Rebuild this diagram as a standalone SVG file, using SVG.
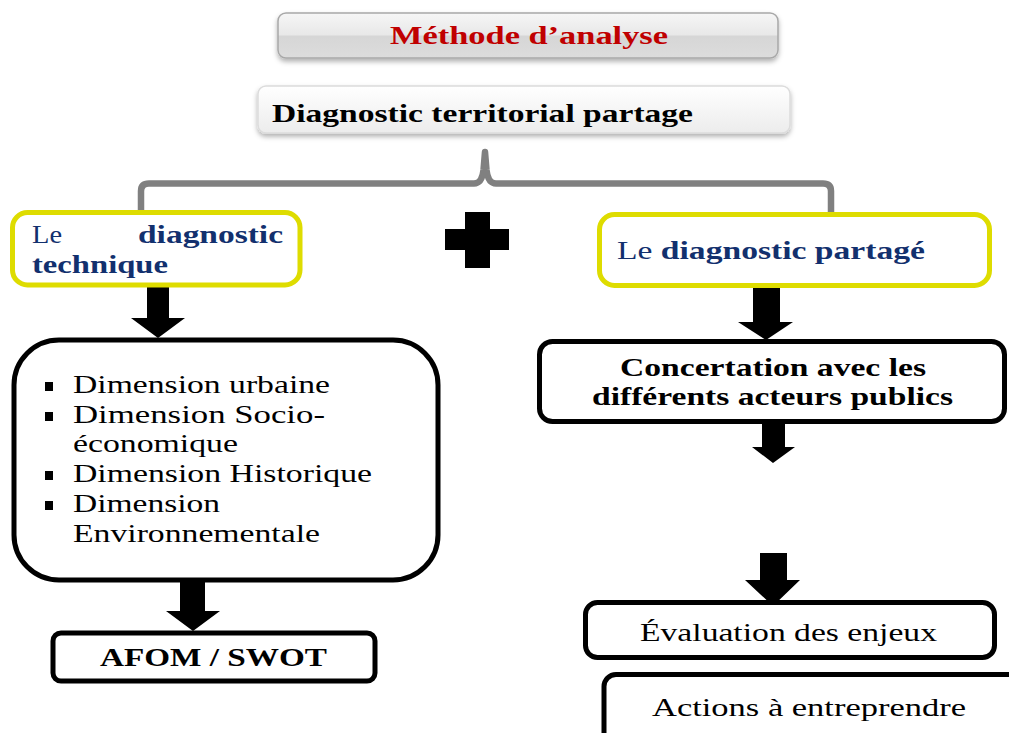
<svg xmlns="http://www.w3.org/2000/svg" width="1009" height="733" viewBox="0 0 1009 733">
  <defs>
    <linearGradient id="glass" x1="0" y1="0" x2="0" y2="1">
      <stop offset="0" stop-color="#f6f6f6"/>
      <stop offset="0.48" stop-color="#e8e8e8"/>
      <stop offset="0.52" stop-color="#d6d6d6"/>
      <stop offset="1" stop-color="#dcdcdc"/>
    </linearGradient>
    <linearGradient id="soft" x1="0" y1="0" x2="0" y2="1">
      <stop offset="0" stop-color="#ffffff"/>
      <stop offset="1" stop-color="#ececec"/>
    </linearGradient>
    <filter id="shadow" x="-5%" y="-20%" width="110%" height="160%">
      <feDropShadow dx="0" dy="3" stdDeviation="2.5" flood-color="#000" flood-opacity="0.3"/>
    </filter>
    <style>
      .serif { font-family: "Liberation Serif", "Times New Roman", serif; }
      .b { font-weight: bold; }
      .navy { fill: #12306e; }
      .yellow { fill: #fff; stroke: #dedc00; stroke-width: 5; }
      .black { fill: #fff; stroke: #000; stroke-width: 5; }
      .arrow { fill: #000; }
      .bullet { fill: #000; }
      .txt { font-size: 26px; fill: #000; }
    </style>
  </defs>

  <!-- bracket joining the two diagnostics -->
  <g id="connectors">
    <path d="M141,212 L141,191 Q141,183.5 149,183.5 L474,183.5 Q482,183.5 483.5,170 L485,152 L486.5,170 Q488,183.5 496,183.5 L823,183.5 Q831,183.5 831,191 L831,212"
          fill="none" stroke="#808080" stroke-width="6.5" stroke-linejoin="round"/>
    <!-- block arrows -->
    <polygon class="arrow" points="147,286 169,286 169,318 185,318 158,338 131,318 147,318"/>
    <polygon class="arrow" points="180,580 205,580 205,611 220,611 193,631 166,611 180,611"/>
    <polygon class="arrow" points="753,287 780,287 780,322 793,322 766,340 738,322 753,322"/>
    <polygon class="arrow" points="762,420 785,420 785,447 795,447 773,463 752,447 762,447"/>
    <polygon class="arrow" points="760,553 787,553 787,580 800,580 773,606 745,580 760,580"/>
  </g>

  <!-- plus sign -->
  <path id="plus" d="M465,212 H490 V229 H509 V250 H490 V268 H465 V250 H445 V229 H465 Z" fill="#000"/>

  <g id="title">
    <rect x="278" y="13" width="500" height="45" rx="8" fill="url(#glass)" stroke="#a8a8a8" stroke-width="1.5" filter="url(#shadow)"/>
    <text class="serif b" x="390" y="44" font-size="25" fill="#c00000" textLength="278" lengthAdjust="spacingAndGlyphs">Méthode  d’analyse</text>
  </g>

  <g id="subtitle">
    <rect x="258" y="86" width="532" height="47" rx="8" fill="url(#soft)" stroke="#dcdcdc" stroke-width="1.5" filter="url(#shadow)"/>
    <text class="serif b" x="272" y="122" font-size="25" fill="#000" textLength="421" lengthAdjust="spacingAndGlyphs">Diagnostic territorial partage</text>
  </g>

  <g id="diag-technique">
    <rect class="yellow" x="12.5" y="212.5" width="287.5" height="72.5" rx="15"/>
    <text class="serif navy" x="32" y="243" font-size="26" textLength="30" lengthAdjust="spacingAndGlyphs">Le</text>
    <text class="serif b navy" x="138" y="243" font-size="26" textLength="145" lengthAdjust="spacingAndGlyphs">diagnostic</text>
    <text class="serif b navy" x="32" y="273" font-size="26" textLength="136" lengthAdjust="spacingAndGlyphs">technique</text>
  </g>

  <g id="diag-partage">
    <rect class="yellow" x="599.5" y="214.5" width="390" height="71" rx="15"/>
    <text class="serif navy" x="617" y="259" font-size="26" textLength="308" lengthAdjust="spacingAndGlyphs">Le <tspan class="b">diagnostic partagé</tspan></text>
  </g>

  <g id="dimensions">
    <rect class="black" x="14" y="340" width="424" height="240" rx="45"/>
    <rect class="bullet" x="45" y="382" width="8" height="9"/>
    <rect class="bullet" x="45" y="412" width="8" height="9"/>
    <rect class="bullet" x="45" y="471" width="8" height="9"/>
    <rect class="bullet" x="45" y="501" width="8" height="9"/>
    <text class="serif txt" x="73" y="393" textLength="257" lengthAdjust="spacingAndGlyphs">Dimension urbaine</text>
    <text class="serif txt" x="73" y="423" textLength="252" lengthAdjust="spacingAndGlyphs">Dimension  Socio-</text>
    <text class="serif txt" x="73" y="452" textLength="165" lengthAdjust="spacingAndGlyphs">économique</text>
    <text class="serif txt" x="73" y="482" textLength="299" lengthAdjust="spacingAndGlyphs">Dimension Historique</text>
    <text class="serif txt" x="73" y="512" textLength="147" lengthAdjust="spacingAndGlyphs">Dimension</text>
    <text class="serif txt" x="73" y="542" textLength="247" lengthAdjust="spacingAndGlyphs">Environnementale</text>
  </g>

  <g id="afom">
    <rect class="black" x="53" y="633" width="322" height="48" rx="8"/>
    <text class="serif b" x="100" y="666" font-size="25" textLength="227" lengthAdjust="spacingAndGlyphs">AFOM / SWOT</text>
  </g>

  <g id="concertation">
    <rect class="black" x="539.5" y="341.5" width="465" height="80" rx="13"/>
    <text class="serif b" x="620" y="376" font-size="26" textLength="306" lengthAdjust="spacingAndGlyphs">Concertation avec les</text>
    <text class="serif b" x="592" y="405" font-size="26" textLength="361" lengthAdjust="spacingAndGlyphs">différents acteurs publics</text>
  </g>

  <g id="evaluation">
    <rect class="black" x="585.5" y="602.5" width="409" height="55" rx="12" stroke-width="4"/>
    <text class="serif" x="640" y="641" font-size="26" textLength="297" lengthAdjust="spacingAndGlyphs">Évaluation des enjeux</text>
  </g>

  <g id="actions">
    <rect class="black" x="604" y="674.5" width="430" height="80" rx="12" stroke-width="4"/>
    <text class="serif" x="652" y="716" font-size="26" textLength="314" lengthAdjust="spacingAndGlyphs">Actions  à entreprendre</text>
  </g>
</svg>
